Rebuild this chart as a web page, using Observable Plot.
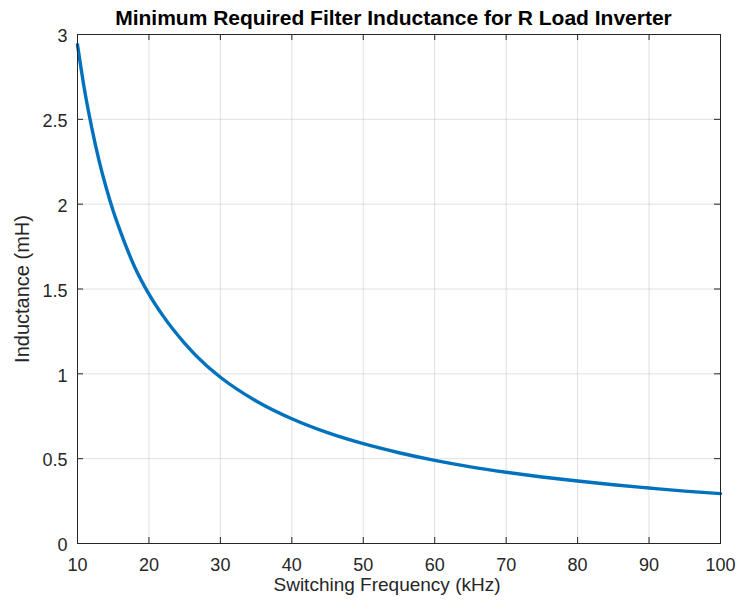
<!DOCTYPE html>
<html>
<head>
<meta charset="utf-8">
<script src="https://cdn.jsdelivr.net/npm/d3@7"></script>
<script src="https://cdn.jsdelivr.net/npm/@observablehq/plot@0.6"></script>
<style>
  body { margin: 0; background: #fff; font-family: "Liberation Sans", Arial, sans-serif; }
  #wrap { position: relative; width: 736px; height: 605px; }
  #title { position: absolute; left: 72px; top: 3px; width: 643px; text-align: center;
           font-weight: bold; font-size: 21px; line-height: 30px; color: #000; white-space: nowrap; }
  #chart { position: absolute; left: 0; top: 0; }
</style>
</head>
<body>
<div id="wrap">
  <div id="chart"></div>
  <div id="title">Minimum Required Filter Inductance for R Load Inverter</div>
</div>
<script>
// Switching frequency (kHz) and minimum filter inductance (mH)
const freqKHz = [10, 11, 12, 13, 14, 15, 16, 18, 20, 22, 25, 28, 30, 35, 40, 45, 50, 55, 60, 65, 70, 75, 80, 85, 90, 95, 100];
const inductanceMH = [2.94, 2.67, 2.45, 2.26, 2.10, 1.96, 1.84, 1.63, 1.47, 1.34, 1.18, 1.05, 0.98, 0.84, 0.735, 0.653, 0.588, 0.535, 0.49, 0.452, 0.42, 0.392, 0.368, 0.346, 0.327, 0.309, 0.294];

const xTicks = [10, 20, 30, 40, 50, 60, 70, 80, 90, 100];
const yTicks = [0, 0.5, 1, 1.5, 2, 2.5, 3];

const data = freqKHz.map((f, i) => ({f, L: inductanceMH[i]}));

const W = 736, H = 605;
const mTop = 34, mBottom = 62, mLeft = 77, mRight = 16;
const plotW = W - mLeft - mRight, plotH = H - mTop - mBottom;
const tick = 6;
const axisColor = "#262626";

const chart = Plot.plot({
  width: W,
  height: H,
  marginTop: mTop,
  marginBottom: mBottom,
  marginLeft: mLeft,
  marginRight: mRight,
  style: {fontFamily: "'Liberation Sans', Arial, sans-serif", fontSize: "18px", color: axisColor, background: "#fff"},
  x: {domain: [10, 100], ticks: xTicks},
  y: {domain: [0, 3], ticks: yTicks},
  marks: [
    Plot.gridX(xTicks, {stroke: "#000", strokeOpacity: 0.12, strokeWidth: 1}),
    Plot.gridY(yTicks, {stroke: "#000", strokeOpacity: 0.12, strokeWidth: 1}),
    // inward tick marks on all four sides
    Plot.tickX(xTicks, {x: d => d, stroke: axisColor, insetTop: plotH - tick}),
    Plot.tickX(xTicks, {x: d => d, stroke: axisColor, insetBottom: plotH - tick}),
    Plot.tickY(yTicks, {y: d => d, stroke: axisColor, insetRight: plotW - tick}),
    Plot.tickY(yTicks, {y: d => d, stroke: axisColor, insetLeft: plotW - tick}),
    Plot.axisX(xTicks, {tickSize: 0, tickPadding: 15, fontSize: 18, fill: axisColor, label: null}),
    Plot.axisY(yTicks, {tickSize: 0, tickPadding: 10, dy: 2, fontSize: 18, fill: axisColor, label: null, tickFormat: d => String(d)}),
    Plot.text(["Switching Frequency (kHz)"], {frameAnchor: "bottom", lineAnchor: "middle", textAnchor: "middle", dx: -12, dy: 41, fontSize: 19, fill: axisColor, text: d => d}),
    Plot.text(["Inductance (mH)"], {frameAnchor: "left", lineAnchor: "middle", textAnchor: "middle", dx: -55, rotate: -90, fontSize: 20, fill: axisColor, text: d => d}),
    Plot.line(data, {x: "f", y: "L", stroke: "#0072BD", strokeWidth: 3.4, curve: "monotone-x"}),
    Plot.frame({stroke: axisColor, strokeWidth: 1})
  ]
});
document.getElementById("chart").appendChild(chart);
</script>
</body>
</html>
